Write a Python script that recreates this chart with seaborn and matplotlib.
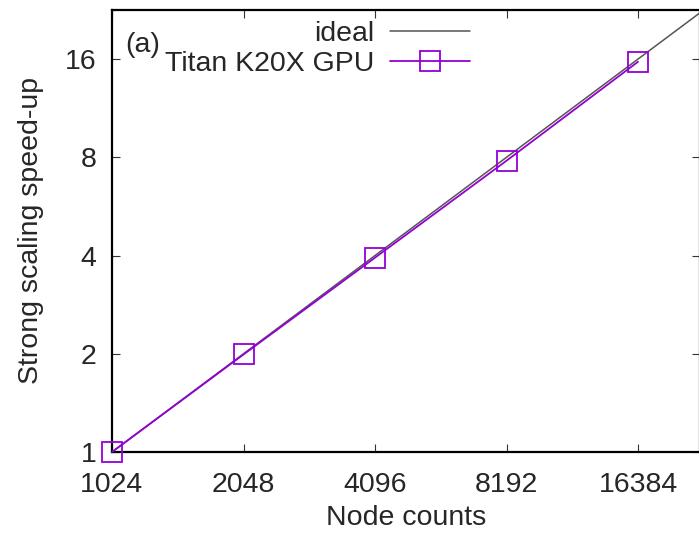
import matplotlib
matplotlib.use("Agg")
import matplotlib.pyplot as plt
import seaborn as sns
from matplotlib.ticker import FixedLocator, FixedFormatter, NullLocator

# ---- data ----
node_counts = [1024, 2048, 4096, 8192, 16384]
titan_speedup = [1.0, 1.99, 3.94, 7.81, 15.7]
ideal_x = [1024, 2048, 4096, 8192, 16384, 32768]
ideal_y = [1, 2, 4, 8, 16, 32]
x_tick_labels = ["1024", "2048", "4096", "8192", "16384"]
y_ticks = [1, 2, 4, 8, 16]
y_tick_labels = ["1", "2", "4", "8", "16"]

sns.set_style("ticks")
plt.rcParams['font.family'] = ['Liberation Sans', 'DejaVu Sans']
FS = 20.5
plt.rcParams['font.size'] = FS

W, H = 699, 535
fig = plt.figure(figsize=(W / 100, H / 100), dpi=100)
left, right, top, bottom = 112, 700, 9.5, 452
ax = fig.add_axes([left / W, 1 - bottom / H, (right - left) / W, (bottom - top) / H])

purple = "#9400D3"
sns.lineplot(x=ideal_x, y=ideal_y, ax=ax, color="#555555", lw=1.1, label="ideal")
sns.lineplot(x=node_counts, y=titan_speedup, ax=ax, color=purple, lw=1.3,
             marker="s", markersize=14, markerfacecolor="none",
             markeredgecolor=purple, markeredgewidth=1.3, label="Titan K20X GPU",
             clip_on=False, zorder=5)

ax.set_xscale("log", base=2)
ax.set_yscale("log", base=2)
ax.set_xlim(1024, 22715)
ax.set_ylim(1, 22.7)

ax.xaxis.set_major_locator(FixedLocator(node_counts))
ax.xaxis.set_major_formatter(FixedFormatter(x_tick_labels))
ax.yaxis.set_major_locator(FixedLocator(y_ticks))
ax.yaxis.set_major_formatter(FixedFormatter(y_tick_labels))
ax.xaxis.set_minor_locator(NullLocator())
ax.yaxis.set_minor_locator(NullLocator())

ax.tick_params(axis="both", which="major", direction="in", length=5.5, width=0.8,
               top=True, right=True, labelsize=FS, color="#333333")
ax.tick_params(axis="x", pad=14.5)
ax.tick_params(axis="y", pad=11)
for s in ax.spines.values():
    s.set_linewidth(1.6)
    s.set_color("black")

ax.set_xlabel("Node counts", fontsize=FS, labelpad=5)
ax.set_ylabel("Strong scaling speed-up", fontsize=FS, labelpad=15)

ax.text(0.022, 0.905, "(a)", transform=ax.transAxes, fontsize=FS, ha="left", va="baseline")

leg = ax.legend(loc="upper right", bbox_to_anchor=(470 / W, 1 - 21 / H),
                bbox_transform=fig.transFigure, frameon=False, markerfirst=False,
                handlelength=2.8, handletextpad=0.55, labelspacing=0.15,
                borderpad=0, borderaxespad=0, fontsize=FS)

fig.savefig("out.png", dpi=100)
